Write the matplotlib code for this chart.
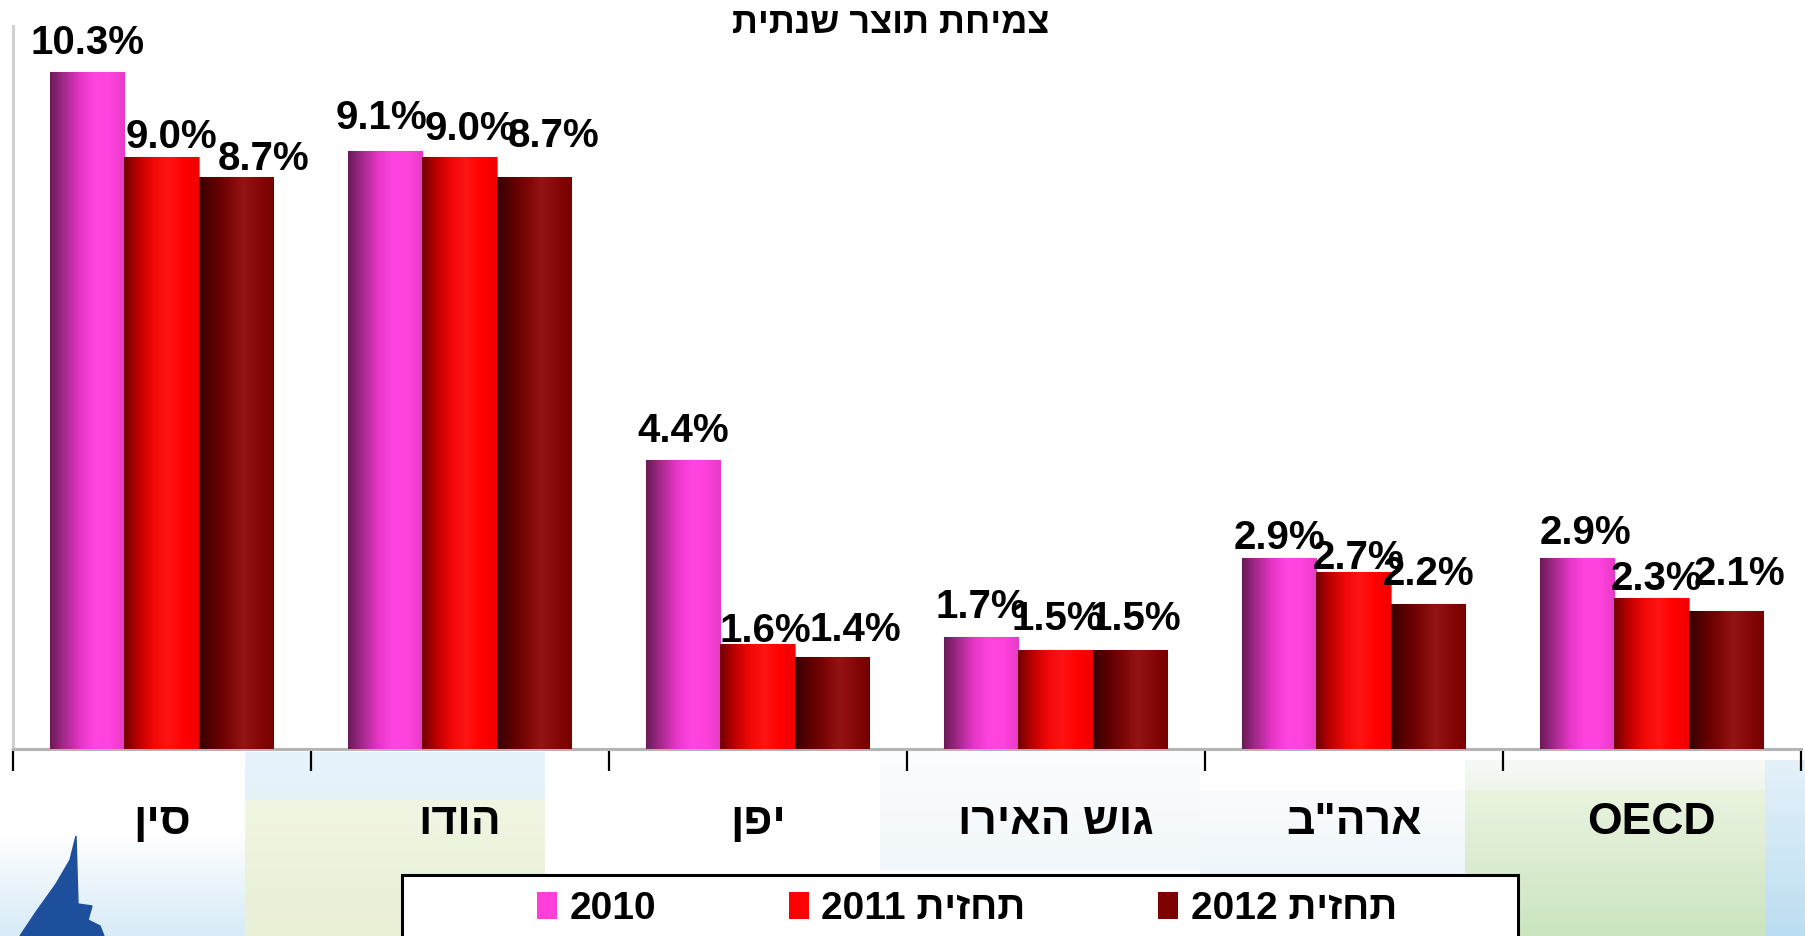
import re
import matplotlib.pyplot as plt
import numpy as np
from matplotlib.colors import LinearSegmentedColormap
from matplotlib.patches import Patch, Rectangle, Polygon

# ---------------- data ----------------
categories = ['סין', 'הודו', 'יפן', 'גוש האירו', 'ארה"ב', 'OECD']
series_names = ['2010', 'תחזית 2011', 'תחזית 2012']
v2010 = [10.3, 9.1, 4.4, 1.7, 2.9, 2.9]
v2011 = [9.0, 9.0, 1.6, 1.5, 2.7, 2.3]
v2012 = [8.7, 8.7, 1.4, 1.5, 2.2, 2.1]
title = 'צמיחת תוצר שנתית'

# ---------------- style ----------------
FONT = ['Liberation Sans', 'DejaVu Sans']
plt.rcParams['font.family'] = FONT
plt.rcParams['font.weight'] = 'bold'

solid = ['#ff3fd8', '#ff0000', '#7e0000']
# cylinder shading, left -> right
shades = [
    ['#6a1a58', '#a82a8e', '#e636c6', '#ff44e0', '#ff42dc', '#e83ac8'],
    ['#700000', '#c00000', '#f20808', '#ff1414', '#ff0000', '#f20000'],
    ['#360000', '#5c0000', '#7c0606', '#941414', '#860808', '#760000'],
]

# label nudges in pixels (dx, gap above bar top), per series / category
lab_dx = [[0, -4, 0, 0, 0, 8],
          [10, 11, 8, 2, 5, 5],
          [27, 19, 23, 5, 0, 13]]
lab_gap = [[18, 22, 18, 19, 9, 14],
           [9, 17, 2, 20, 3, 8],
           [7, 30, 16, 20, 19, 26]]


def visual(s):
    # matplotlib has no bidi: put RTL text in visual order
    runs = re.findall(r'[0-9A-Za-z.%]+|[^0-9A-Za-z.%]+', s)
    out = []
    for r in reversed(runs):
        out.append(r if re.match(r'[0-9A-Za-z]', r) else r[::-1])
    return ''.join(out)


W, H = 1806, 936
fig = plt.figure(figsize=(W / 100, H / 100), dpi=100)

# ---- soft background wash at the bottom ----
bg = fig.add_axes([0, 0, 1, 1], zorder=-5)
washes = [  # x0, x1, y0, y1, top colour, bottom colour
    (245, 545, 752, 800, '#e8f4fb', '#e4f1f7'),
    (245, 545, 800, 936, '#f0f6e2', '#e8f0d6'),
    (0, 245, 830, 936, '#ffffff', '#d8ebf7'),
    (880, 1200, 752, 870, '#fbfdfe', '#f1f7fb'),
    (1200, 1465, 790, 880, '#fafcfe', '#eef6fb'),
    (1465, 1765, 760, 790, '#f6faf7', '#eef5ea'),
    (1465, 1765, 790, 936, '#eaf3df', '#cbe5c0'),
    (1765, 1806, 760, 936, '#e4f1f9', '#bcdef2'),
]
for x0, x1, y0, y1, c0, c1 in washes:
    cm = LinearSegmentedColormap.from_list('w', [c0, c1])
    bg.imshow(np.linspace(0, 1, 64).reshape(-1, 1), cmap=cm, aspect='auto',
              extent=[x0, x1, y1, y0], interpolation='bicubic')
bg.set_xlim(0, W)
bg.set_ylim(H, 0)
bg.axis('off')
bg.add_patch(Polygon([(76, 836), (70, 860), (56, 884), (36, 912), (20, 936),
                      (104, 936), (100, 926), (88, 920), (92, 906), (78, 904)],
                     closed=True, color='#1d4f9c'))

# ---- main axes ----
ax = fig.add_axes([12.7 / W, 187 / H, 1788 / W, 723 / H])
ax.patch.set_alpha(0)

x = np.arange(len(categories))
bw = 0.25
values = [v2010, v2011, v2012]
for k, vals in enumerate(values):
    bars = ax.bar(x + (k - 1) * bw, vals, bw, color=solid[k],
                  edgecolor='#9c8a8a', linewidth=0.8, zorder=2)
    cmap = LinearSegmentedColormap.from_list('s%d' % k, shades[k])
    grad = np.linspace(0, 1, 128).reshape(1, -1)
    for j, b in enumerate(bars):
        bx, by = b.get_x(), b.get_y()
        im = ax.imshow(grad, cmap=cmap, aspect='auto', zorder=3,
                       extent=[bx, bx + b.get_width(), by, by + b.get_height()])
        im.set_clip_path(b)
        ax.annotate('%.1f%%' % vals[j], (b.get_x() + b.get_width() / 2, vals[j]),
                    xytext=(lab_dx[k][j] * 0.72, lab_gap[k][j] * 0.72),
                    textcoords='offset points', ha='center', va='baseline',
                    fontsize=29, fontweight='bold', color='black', zorder=5)

ax.set_xlim(-0.5, len(categories) - 0.5)
ax.set_ylim(0, 11)

# category boundaries as ticks, names centred between them
ax.set_xticks(np.arange(len(categories) + 1) - 0.5)
ax.set_xticklabels([])
ax.tick_params(axis='x', which='major', length=16, width=1.6, color='black', direction='out')
ax.set_xticks(x, minor=True)
ax.set_xticklabels([visual(c) for c in categories], minor=True,
                   fontsize=32, fontweight='bold')
ax.tick_params(axis='x', which='minor', length=0, pad=38)
ax.set_yticks([])

for s in ['top', 'right']:
    ax.spines[s].set_visible(False)
ax.spines['bottom'].set_color('#b4b4b4')
ax.spines['bottom'].set_linewidth(2.2)
ax.spines['left'].set_color('#cfcfcf')
ax.spines['left'].set_linewidth(2.2)

fig.text(891 / W, 1 - 33 / H, visual(title), ha='center', va='baseline',
         fontsize=26, fontweight='bold')

# ---- legend ----
fig.patches.append(Rectangle((402 / W, -0.02), 1116 / W, 0.02 + 61 / H,
                             transform=fig.transFigure, facecolor='white',
                             edgecolor='black', linewidth=2.2, zorder=1))
handles = [Patch(facecolor=c) for c in solid]
leg = fig.legend(handles, [visual(s) for s in series_names], loc='center',
                 bbox_to_anchor=(967 / W, 1 - 909 / H), ncol=3, frameon=False,
                 prop={'family': FONT, 'weight': 'bold', 'size': 28},
                 handlelength=0.51, handleheight=0.72, handletextpad=0.33,
                 columnspacing=3.4, borderpad=0)
leg.set_zorder(6)

fig.savefig('out.png', dpi=100)
